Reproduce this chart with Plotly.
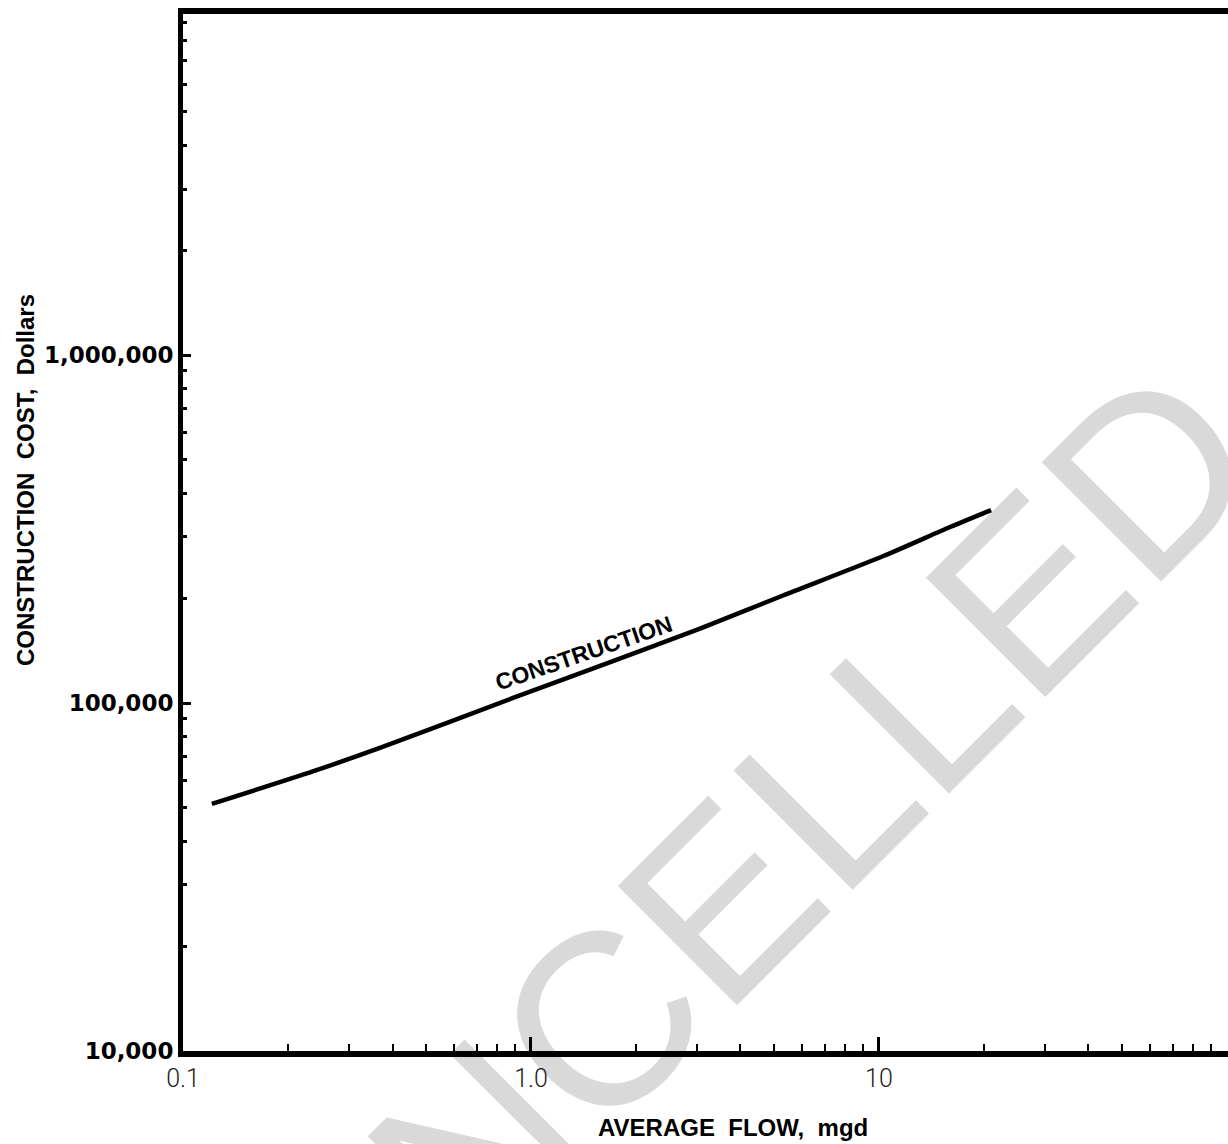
import plotly.graph_objects as go

# ---- data ----
flow_mgd = [0.121, 0.236, 0.368, 0.888, 1.72, 3.06, 5.30, 10.3, 16.0, 21.0]
cost_usd = [51300, 63600, 74300, 103400, 132000, 163700, 203700, 264500, 320400, 358500]

x_major_vals = [0.1, 1, 10]
x_major_text = ["0.1", "1.0", "10"]
x_minor_vals = [0.2, 0.3, 0.4, 0.5, 0.6, 0.7, 0.8, 0.9,
                2, 3, 4, 5, 6, 7, 8, 9,
                20, 30, 40, 50, 60, 70, 80, 90]

y_major_vals = [10000, 100000, 1000000]
y_major_text = ["10,000", "100,000", "1,000,000"]
y_minor_vals = [20000, 30000, 40000, 50000, 60000, 70000, 80000, 90000,
                200000, 300000, 400000, 500000, 600000, 700000, 800000, 900000,
                2000000, 3000000, 4000000, 5000000, 6000000, 7000000, 8000000, 9000000]

x_title = "AVERAGE  FLOW,  mgd"
y_title = "CONSTRUCTION  COST,  Dollars"
curve_label = "CONSTRUCTION"
watermark = "CANCELLED"

fig = go.Figure()
fig.add_trace(go.Scatter(
    x=flow_mgd, y=cost_usd, mode="lines",
    line=dict(color="black", width=4.5, shape="spline", smoothing=0.7),
    hoverinfo="skip", showlegend=False,
))

bold = "Liberation Sans, Arial, sans-serif"

fig.update_layout(
    width=1228, height=1144,
    margin=dict(l=183, r=0, t=14, b=93),
    paper_bgcolor="white",
    plot_bgcolor="rgba(0,0,0,0)",
    showlegend=False,
    xaxis=dict(
        type="log", range=[-1.0, 2.003],
        showline=True, linecolor="black", linewidth=6, mirror=True,
        showgrid=False, zeroline=False,
        ticks="inside", ticklen=14, tickwidth=3, tickcolor="black",
        tickmode="array", tickvals=x_major_vals, ticktext=x_major_text,
        tickfont=dict(family="Roboto", size=25, color="#222", weight=300),
        ticklabelstandoff=0,
        minor=dict(tickmode="array", tickvals=x_minor_vals, ticks="inside",
                   ticklen=7, tickwidth=2, tickcolor="black", showgrid=False),
    ),
    yaxis=dict(
        type="log", range=[4, 6.98],
        showline=True, linecolor="black", linewidth=5,
        showgrid=False, zeroline=False,
        ticks="inside", ticklen=8, tickwidth=3, tickcolor="black",
        tickmode="array", tickvals=y_major_vals, ticktext=y_major_text,
        tickfont=dict(family="DejaVu Sans", size=23, color="black", weight="bold"),
        ticklabelstandoff=0,
        minor=dict(tickmode="array", tickvals=y_minor_vals, ticks="inside",
                   ticklen=4, tickwidth=3, tickcolor="black", showgrid=False),
    ),
)

# watermark as a shape label drawn beneath the chart
fig.add_shape(
    type="line", xref="paper", yref="paper",
    x0=0.066, y0=-0.463, x1=1.062, y1=0.540,
    line=dict(width=0, color="rgba(0,0,0,0)"),
    layer="below",
    label=dict(text=watermark, textposition="middle", textangle=-45,
               yanchor="bottom", padding=0,
               font=dict(family="Liberation Sans, Arial", size=245, color="#d9d9d9")),
)

fig.add_annotation(
    text=y_title, xref="paper", yref="paper", x=-0.1512, y=0.5506,
    xanchor="center", yanchor="middle",
    textangle=-90, showarrow=False,
    font=dict(family=bold, size=24, color="black", weight="bold"),
)
fig.add_annotation(
    text=x_title, xref="paper", yref="paper", x=0.5263, y=-0.0733,
    xanchor="center", yanchor="middle",
    showarrow=False,
    font=dict(family=bold, size=24, color="black", weight="bold"),
)
fig.add_annotation(
    text=curve_label, xref="x", yref="y", x=0.1523, y=5.144,
    xanchor="center", yanchor="middle",
    textangle=-19, showarrow=False,
    font=dict(family=bold, size=23, color="black", weight="bold"),
)

fig.write_html(
    "out.html",
    config={"displayModeBar": False},
    post_script="document.body.style.margin='0';document.body.style.overflow='hidden';",
)
